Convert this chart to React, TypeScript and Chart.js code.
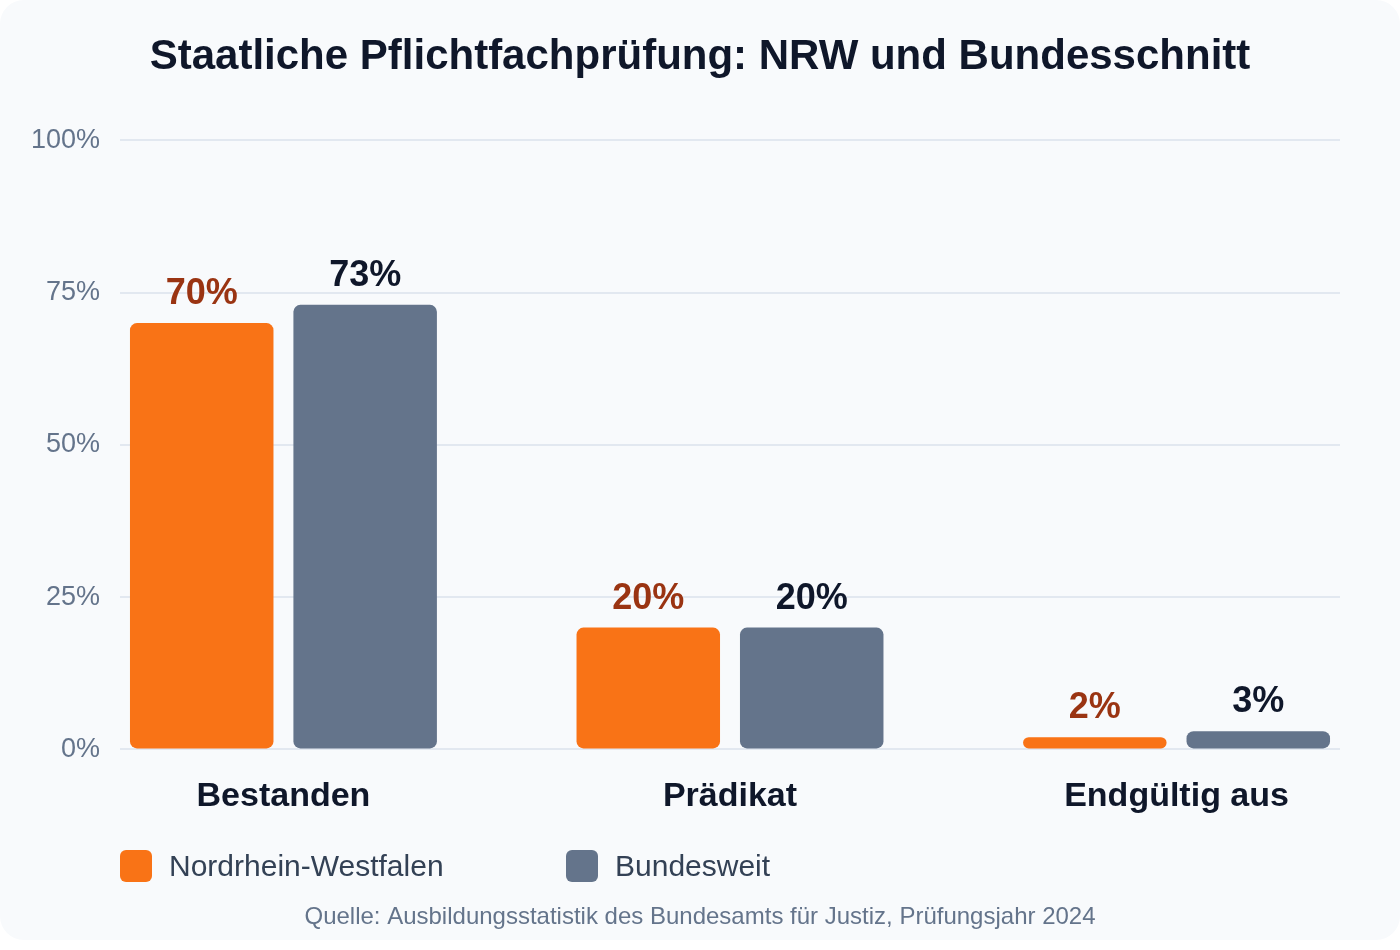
import { useEffect, useRef } from "react"
import { Chart, registerables, type Plugin } from "chart.js"

Chart.register(...registerables)

const FONT = "'Liberation Sans', Arial, sans-serif"

const categories = ["Bestanden", "Prädikat", "Endgültig aus"]
const seriesNames = ["Nordrhein-Westfalen", "Bundesweit"]
const nrwValues = [70, 20, 2]
const bundValues = [73, 20, 3]
const seriesColors = ["#f97316", "#64748b"]
const labelColors = ["#9a3412", "#0f172a"]
const yTicks = [0, 25, 50, 75, 100]

const titleText = "Staatliche Pflichtfachprüfung: NRW und Bundesschnitt"
const sourceText = "Quelle: Ausbildungsstatistik des Bundesamts für Justiz, Prüfungsjahr 2024"

// value labels above each bar, coloured per series
const valueLabels: Plugin<"bar"> = {
  id: "valueLabels",
  afterDatasetsDraw(chart) {
    const { ctx } = chart
    ctx.save()
    ctx.font = `bold 36px ${FONT}`
    ctx.textAlign = "center"
    ctx.textBaseline = "alphabetic"
    chart.data.datasets.forEach((ds, di) => {
      const meta = chart.getDatasetMeta(di)
      meta.data.forEach((bar, i) => {
        const point = ds.data[i] as { y: number }
        ctx.fillStyle = labelColors[di]
        ctx.fillText(`${point.y}%`, bar.x, bar.y - 19)
      })
    })
    ctx.restore()
  },
}

// categories sit on a linear index axis so the outer gaps can be wider
// than a plain category scale allows
const toPoints = (values: number[]) => values.map((y, x) => ({ x, y }))

export default function App() {
  const canvasRef = useRef<HTMLCanvasElement | null>(null)
  const chartRef = useRef<Chart | null>(null)

  useEffect(() => {
    document.body.style.margin = "0"
    document.body.style.background = "#ffffff"
    if (!canvasRef.current) return
    const ctx = canvasRef.current.getContext("2d")
    if (!ctx) return
    chartRef.current?.destroy()
    chartRef.current = new Chart(ctx, {
      type: "bar",
      data: {
        datasets: [
          {
            label: seriesNames[0],
            data: toPoints(nrwValues),
            backgroundColor: seriesColors[0],
            borderRadius: 7,
            borderSkipped: false,
            categoryPercentage: 0.732,
            barPercentage: 0.878,
          },
          {
            label: seriesNames[1],
            data: toPoints(bundValues),
            backgroundColor: seriesColors[1],
            borderRadius: 7,
            borderSkipped: false,
            categoryPercentage: 0.732,
            barPercentage: 0.878,
          },
        ],
      },
      options: {
        responsive: true,
        maintainAspectRatio: false,
        animation: false,
        layout: { padding: { left: 20, right: 20, top: 0, bottom: 0 } },
        scales: {
          x: {
            type: "linear",
            offset: false,
            min: -0.366,
            max: categories.length - 1 + 0.366,
            afterBuildTicks: (scale) => {
              scale.ticks = categories.map((_, i) => ({ value: i }))
            },
            grid: { display: false, drawTicks: false },
            border: { display: false },
            ticks: {
              color: "#0f172a",
              padding: 27,
              font: { family: FONT, size: 34, weight: "bold" },
              callback: (v) => categories[Number(v)] ?? "",
            },
          },
          y: {
            min: 0,
            max: 100,
            afterFit: (scale) => {
              scale.width = 100
            },
            afterBuildTicks: (scale) => {
              scale.ticks = yTicks.map((v) => ({ value: v }))
            },
            grid: { color: "#e2e8f0", lineWidth: 2, drawTicks: false },
            border: { display: false },
            ticks: {
              color: "#64748b",
              padding: 20,
              font: { family: FONT, size: 27 },
              callback: (v) => `${v}%`,
            },
          },
          // empty right-hand axis, only reserves space so title and footer stay centred
          yRight: {
            position: "right",
            min: 0,
            max: 100,
            afterFit: (scale) => {
              scale.width = 40
            },
            grid: { display: false, drawTicks: false },
            border: { display: false },
            ticks: { display: false },
          },
        },
        plugins: {
          legend: { display: false },
          tooltip: { enabled: false },
          title: {
            display: true,
            text: titleText,
            color: "#0f172a",
            font: { family: FONT, size: 42, weight: "bold" },
            padding: { top: 32, bottom: 58 },
          },
          subtitle: {
            display: true,
            position: "bottom",
            text: sourceText,
            color: "#64748b",
            font: { family: FONT, size: 24 },
            padding: { top: 59, bottom: 8 },
          },
        },
      },
      plugins: [valueLabels],
    })
    return () => {
      chartRef.current?.destroy()
      chartRef.current = null
    }
  }, [])

  return (
    <div
      style={{
        position: "relative",
        width: 1400,
        height: 940,
        background: "#f8fafc",
        borderRadius: 24,
        overflow: "hidden",
        fontFamily: FONT,
      }}
    >
      <canvas ref={canvasRef} />
      <div
        style={{
          position: "absolute",
          left: 120,
          top: 850,
          display: "flex",
          alignItems: "center",
        }}
      >
        {seriesNames.map((name, i) => (
          <div
            key={name}
            style={{ display: "flex", alignItems: "center", width: i === 0 ? 446 : "auto" }}
          >
            <span
              style={{
                display: "inline-block",
                width: 32,
                height: 32,
                borderRadius: 6,
                background: seriesColors[i],
                marginRight: 17,
              }}
            />
            <span style={{ fontSize: 30, color: "#334155", lineHeight: "32px" }}>{name}</span>
          </div>
        ))}
      </div>
    </div>
  )
}
